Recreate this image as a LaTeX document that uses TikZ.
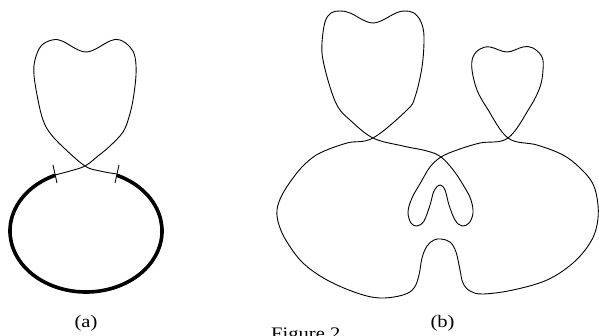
\documentclass[tikz,border=0pt]{standalone}
\usepackage{fontspec}
\usepackage{graphicx}
\setmainfont{Liberation Serif}
\begin{document}
\begin{tikzpicture}[x=1pt,y=-1pt,
  curve/.style={line width=0.9pt,line join=round},
  bold/.style={line width=3.6pt},
  lbl/.style={font=\fontsize{17.6}{20}\selectfont,inner sep=0pt}]
\clip (0,0) rectangle (599,335);
% ---------- (a) ----------
\draw[curve] plot[smooth,tension=0.6] coordinates {
  (55,175) (70,171) (85,166) (98,156) (110,146) (123,132) (129,117)
  (133,100) (136,75) (135,57) (130,47) (120,40) (110,41) (86,52)
  (62,41) (52,40) (41,46) (35,60) (34,75) (38,100) (43,120) (50,133)
  (63,147) (85,166) (100,171) (117,174)};
\draw[bold] (86,231) ++(-66:76 and 61)
  arc[start angle=-66,end angle=246,x radius=76,y radius=61];
\draw[curve] (53,165) -- (57,183);
\draw[curve] (119,165) -- (115,183);
\node[lbl,anchor=base] (la) at (86,327) {\scalebox{1.17}[1]{(a)}};
% ---------- (b) ----------
\draw[curve] plot[smooth cycle,tension=0.6] coordinates {
  (373,138) (347,143) (320,153) (305,164) (293,178) (282,195) (277,210)
  (279,225) (287,242) (303,263) (327,280) (357,293) (380,298) (403,295)
  (414,288) (419,275) (422,258) (427,246) (434,240) (441,239) (450,242)
  (456,252) (460,270) (463,283) (470,291) (483,294) (513,290) (547,280)
  (573,263) (590,243) (597,225) (598,205) (593,184) (580,168) (563,155)
  (537,145) (508,138) (487,108) (477,90) (472,70) (473,57) (480,49)
  (490,47) (507,52) (523,47) (533,48) (542,57) (543,70) (540,87)
  (530,107) (508,138) (480,143) (457,150) (441,157) (430,167) (421,182)
  (412,198) (408,212) (411,223) (417,226) (424,221) (430,205) (434,191)
  (440,185) (445,190) (449,205) (455,220) (462,226) (469,223) (473,213)
  (471,200) (465,188) (454,171) (441,157) (427,151) (403,146) (373,138)
  (350,120) (338,107) (330,87) (323,60) (322,43) (325,22) (331,13)
  (340,11) (350,13) (373,23) (396,13) (405,11) (414,13) (421,22)
  (424,37) (422,67) (415,97) (407,110)};
\node[lbl,anchor=base] (lb) at (442.5,327) {\scalebox{1.17}[1]{(b)}};
\node[lbl,anchor=base west] (fig) at (271,339) {\scalebox{1.17}[1]{Figure 2}};
\end{tikzpicture}
\end{document}
